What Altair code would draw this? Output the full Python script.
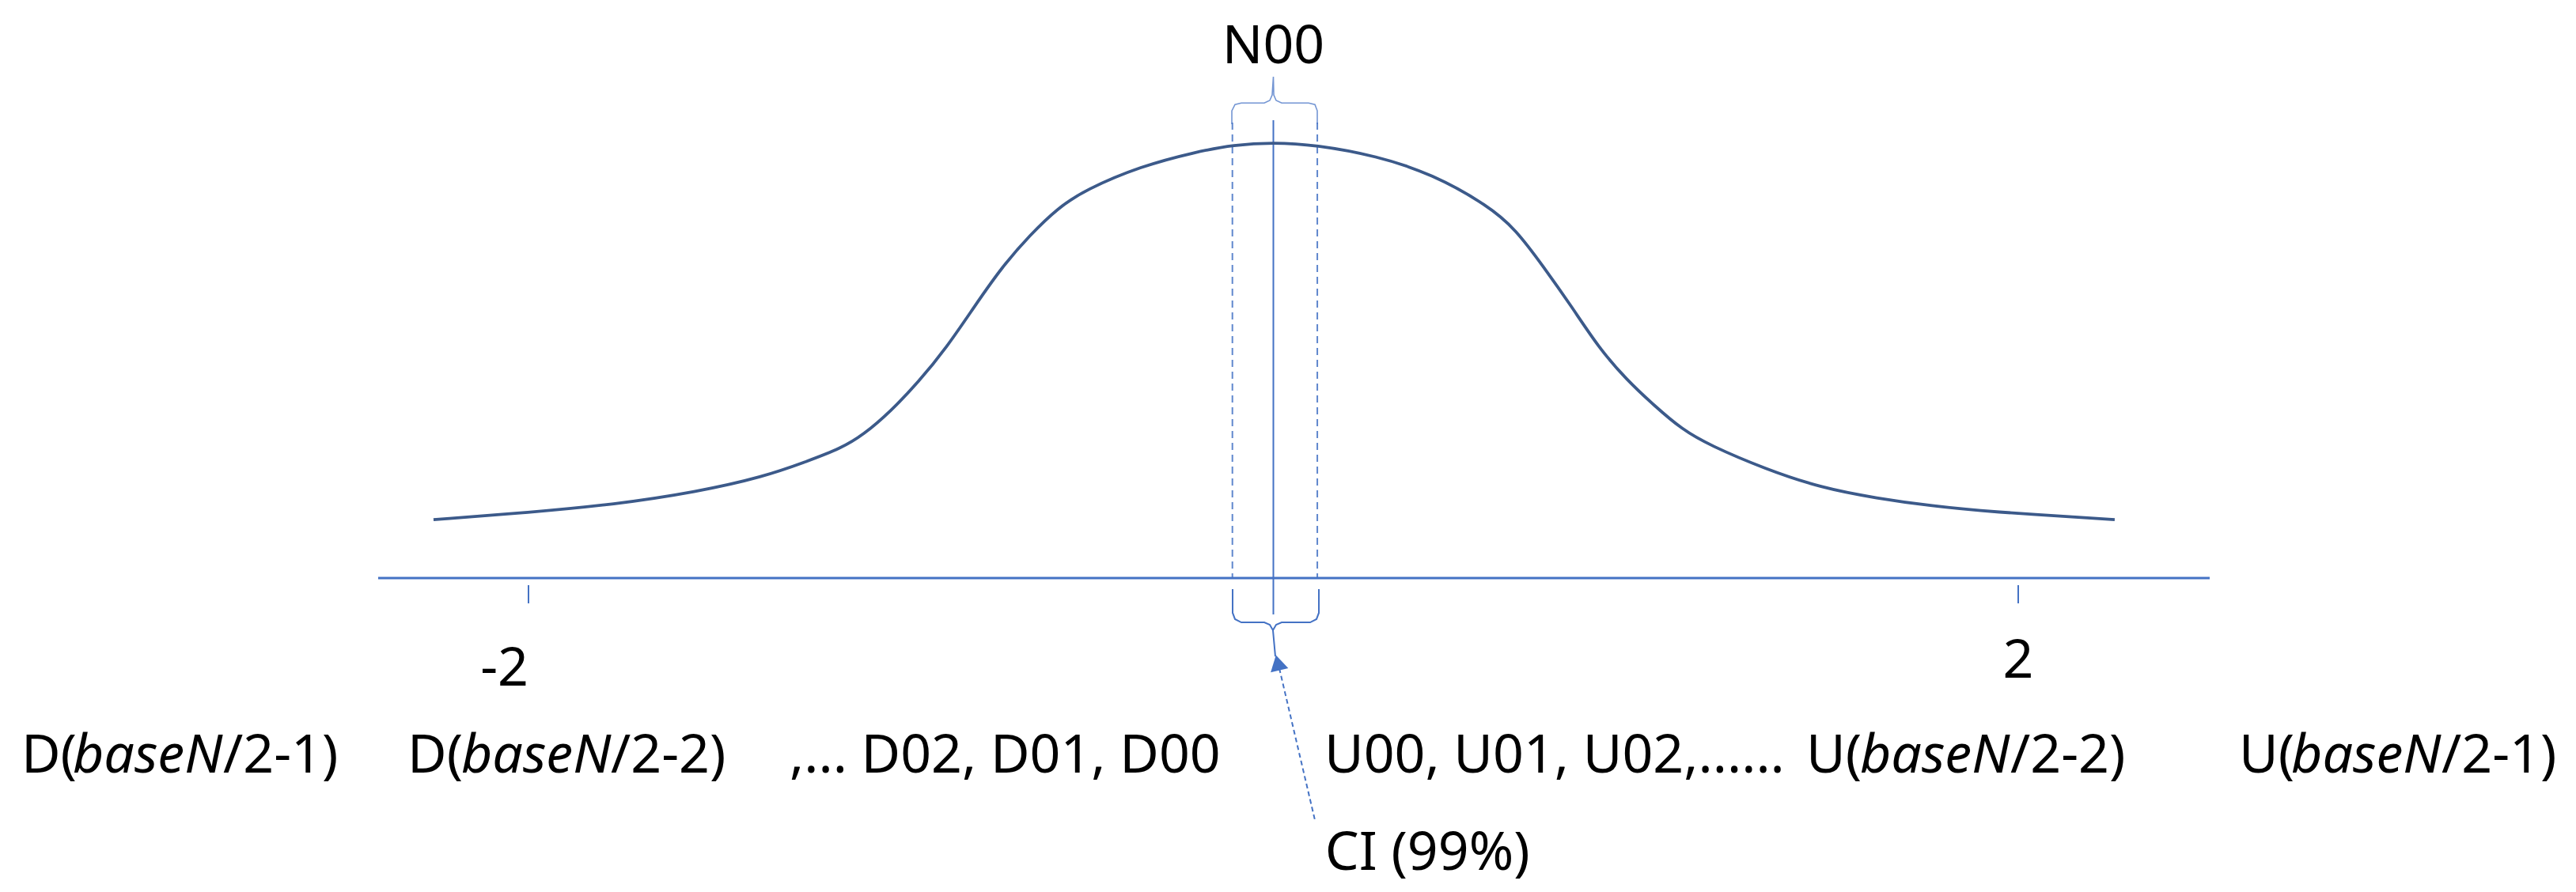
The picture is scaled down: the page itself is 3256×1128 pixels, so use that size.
import altair as alt
import pandas as pd

# ---------------- data (x in sigma units, y in density units) ----------------
curve_x = [-2.255, -1.996, -1.771, -1.548, -1.369, -1.250, -1.161, -1.101, -1.027, -0.953,
           -0.878, -0.802, -0.728, -0.653, -0.579, -0.505, -0.356, -0.207, -0.107, 0.0,
           0.112, 0.277, 0.426, 0.577, 0.651, 0.725, 0.800, 0.874, 0.948, 1.023,
           1.097, 1.171, 1.320, 1.471, 1.620, 1.769, 1.917, 2.259]
curve_y = [0.0537, 0.0603, 0.0675, 0.0791, 0.0929, 0.1074, 0.1191, 0.1314, 0.1532, 0.1800,
           0.2113, 0.2497, 0.2860, 0.3151, 0.3397, 0.3564, 0.3782, 0.3913, 0.3978, 0.4000,
           0.3978, 0.3877, 0.3710, 0.3419, 0.3201, 0.2860, 0.2497, 0.2113, 0.1822, 0.1583,
           0.1365, 0.1220, 0.1002, 0.0828, 0.0733, 0.0661, 0.0610, 0.0537]

axis_span = [-2.4036, 2.514]
tick_values = [-2, 2]
tick_labels = ["-2", "2"]
tick_label_anchor = ["right", "center"]

ci_bounds = [-0.11, 0.118]          # dashed confidence-interval bounds
center_value = 0.0
peak_label = "N00"
ci_label = "CI (99%)"

# annotation geometry (data units)
top_brace_x = [-0.1115, -0.1115, -0.1030, -0.0860, -0.0244, -0.0096, -0.0032, 0.0, 0.0011,
               0.0074, 0.0223, 0.0945, 0.1116, 0.1179, 0.1179]
top_brace_y = [0.4167, 0.4290, 0.4348, 0.4362, 0.4362, 0.4385, 0.4436, 0.4603, 0.4436,
               0.4385, 0.4362, 0.4362, 0.4348, 0.4290, 0.4167]
bot_brace_x = [-0.1094, -0.1094, -0.1030, -0.0860, -0.0244, -0.0096, -0.0011, 0.0053,
               -0.0011, 0.0074, 0.0223, 0.0988, 0.1158, 0.1222, 0.1222]
bot_brace_y = [-0.0102, -0.0319, -0.0377, -0.0407, -0.0407, -0.0428, -0.0479, -0.0719,
               -0.0479, -0.0428, -0.0407, -0.0407, -0.0377, -0.0319, -0.0102]

# bottom category labels, split into upright / italic pieces
row_upright_left = ["D(", "D(", ",... D02, D01, D00", "U(", "U("]
row_upright_left_x = [-3.3617, -2.3250, -1.2990, 1.4307, 2.5927]
row_upright_right = ["U00, U01, U02,......"]
row_upright_right_x = [1.3730]
row_italic = ["baseN", "baseN", "baseN", "baseN"]
row_italic_x = [-3.2236, -2.1806, 1.5751, 2.7329]
row_upright_suffix = ["/2-1)", "/2-2)", "/2-2)", "/2-1)"]
row_upright_suffix_x = [-2.8200, -1.7791, 1.9788, 3.1365]
row_baseline = -0.1786

# ---------------- scales ----------------
xs = alt.Scale(domain=[-3.402, 3.4806], nice=False, zero=False)
ys = alt.Scale(domain=[-0.2824, 0.5249], nice=False, zero=False)

def X(f="x"):
    return alt.X(f"{f}:Q", scale=xs, axis=None)

def Y(f="y"):
    return alt.Y(f"{f}:Q", scale=ys, axis=None)

CURVE = "#3C5A8A"
BLUE = "#4472C4"
FONT = "Noto Sans"
FS = 68

def text_layer(xv, tv, yv, align, style="normal"):
    df = pd.DataFrame({"x": xv, "y": yv, "t": tv})
    return alt.Chart(df).mark_text(
        align=align, baseline="alphabetic", font=FONT, fontSize=FS,
        fontStyle=style, color="#000000"
    ).encode(x=X(), y=Y(), text="t:N")

curve = alt.Chart(pd.DataFrame({"x": curve_x, "y": curve_y})).mark_line(
    color=CURVE, strokeWidth=3.8, interpolate="basis"
).encode(x=X(), y=Y())

axis_line = alt.Chart(pd.DataFrame({"x": [axis_span[0]], "x2": [axis_span[1]], "y": [0.0]})).mark_rule(
    color=BLUE, strokeWidth=3
).encode(x=X(), x2="x2:Q", y=Y())

ticks = alt.Chart(pd.DataFrame({"x": tick_values, "y": [-0.0065, -0.0065], "y2": [-0.0232, -0.0232]})).mark_rule(
    color=BLUE, strokeWidth=2
).encode(x=X(), y=Y(), y2="y2:Q")

tick_text_l = text_layer([tick_values[0]], [tick_labels[0]], [-0.0987], tick_label_anchor[0])
tick_text_c = text_layer([tick_values[1]], [tick_labels[1]], [-0.0915], tick_label_anchor[1])

center_line = alt.Chart(pd.DataFrame({"x": [center_value], "y": [0.4203], "y2": [-0.0334]})).mark_rule(
    color=BLUE, strokeWidth=2
).encode(x=X(), y=Y(), y2="y2:Q")

ci_lines = alt.Chart(pd.DataFrame({"x": ci_bounds, "y": [0.4182, 0.4182], "y2": [0.0, 0.0]})).mark_rule(
    color=BLUE, strokeWidth=2, strokeDash=[9, 6], opacity=0.85
).encode(x=X(), y=Y(), y2="y2:Q")

top_brace = alt.Chart(pd.DataFrame({"x": top_brace_x, "y": top_brace_y, "i": list(range(len(top_brace_x)))})).mark_line(
    color=BLUE, strokeWidth=1.6, opacity=0.75
).encode(x=X(), y=Y(), order="i:Q")

bot_brace = alt.Chart(pd.DataFrame({"x": bot_brace_x, "y": bot_brace_y, "i": list(range(len(bot_brace_x)))})).mark_line(
    color=BLUE, strokeWidth=2
).encode(x=X(), y=Y(), order="i:Q")

arrow_line = alt.Chart(pd.DataFrame({"x": [0.0159], "y": [-0.0828], "x2": [0.1115], "y2": [-0.2221]})).mark_rule(
    color=BLUE, strokeWidth=2, strokeDash=[6, 4]
).encode(x=X(), y=Y(), x2="x2:Q", y2="y2:Q")

arrow_head = alt.Chart(pd.DataFrame({"x": [0.0117], "y": [-0.0777]})).mark_point(
    shape="triangle-up", filled=True, size=520, angle=347, color=BLUE, opacity=1
).encode(x=X(), y=Y())

n00 = text_layer([center_value], [peak_label], [0.4726], "center")
ci_text = text_layer([0.1386], [ci_label], [-0.2679], "left")

row_left = text_layer(row_upright_left_x, row_upright_left, [row_baseline] * len(row_upright_left), "left")
row_right = text_layer(row_upright_right_x, row_upright_right, [row_baseline] * len(row_upright_right), "right")
row_it = text_layer(row_italic_x, row_italic, [row_baseline] * len(row_italic), "left", "italic")
row_suffix = text_layer(row_upright_suffix_x, row_upright_suffix, [row_baseline] * len(row_upright_suffix), "left")

chart = alt.layer(
    ci_lines, center_line, top_brace, bot_brace, axis_line, ticks, curve,
    arrow_line, arrow_head, tick_text_l, tick_text_c, n00, ci_text,
    row_left, row_right, row_it, row_suffix
).properties(
    width=3240, height=1112,
    autosize=alt.AutoSizeParams(type="none"),
    padding=0,
    background="white",
).configure_view(stroke=None)

chart.save("out.html", embed_options={"renderer": "svg", "actions": False})
